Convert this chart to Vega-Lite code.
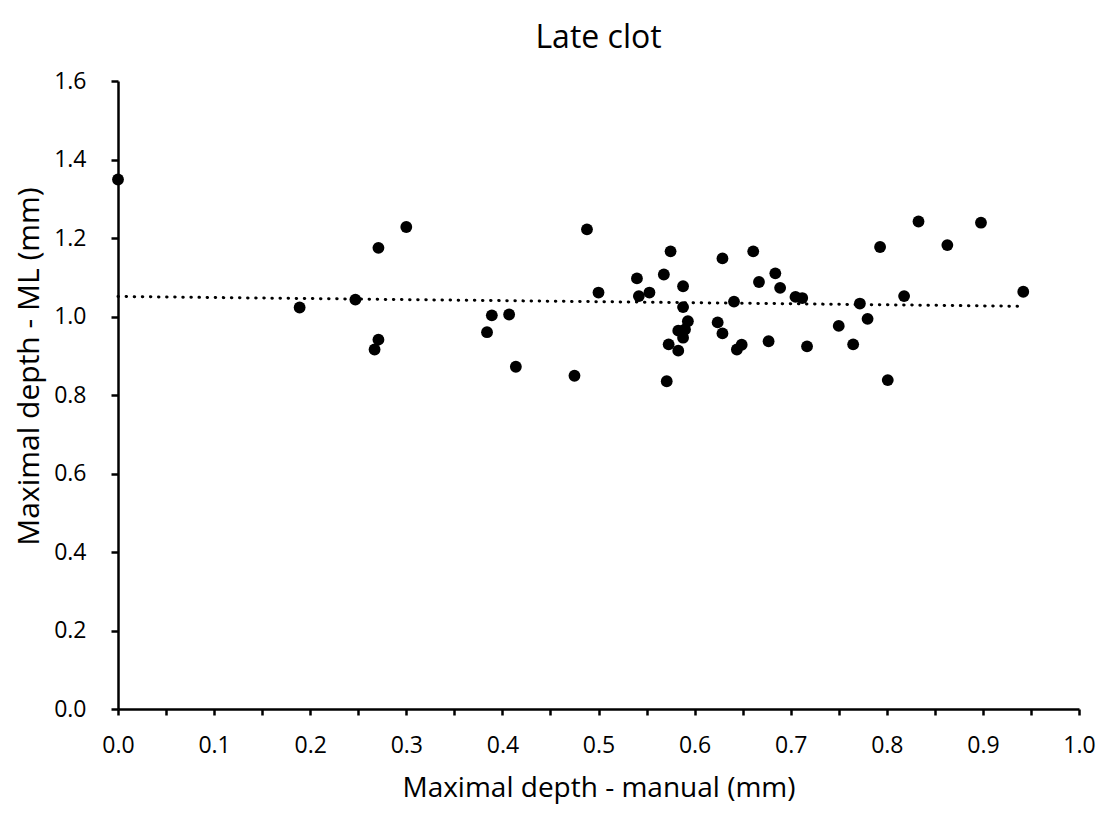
{
  "$schema": "https://vega.github.io/schema/vega-lite/v6.json",
  "autosize": {"type": "none"},
  "width": 961,
  "height": 628,
  "padding": {"left": 118, "top": 81, "right": 35, "bottom": 105},
  "background": "white",
  "config": {"view": {"stroke": null}, "font": "Open Sans"},
  "title": {"text": "Late clot", "fontSize": 32, "font": "Open Sans", "fontWeight": "normal", "color": "#000000", "anchor": "middle", "offset": 15},
  "datasets": {
    "pts": [
      {"x": 0.0, "y": 1.349},
      {"x": 0.189, "y": 1.023},
      {"x": 0.247, "y": 1.043},
      {"x": 0.267, "y": 0.916},
      {"x": 0.271, "y": 0.941},
      {"x": 0.271, "y": 1.175},
      {"x": 0.300, "y": 1.228},
      {"x": 0.384, "y": 0.960},
      {"x": 0.389, "y": 1.003},
      {"x": 0.407, "y": 1.005},
      {"x": 0.414, "y": 0.872},
      {"x": 0.475, "y": 0.849},
      {"x": 0.488, "y": 1.222},
      {"x": 0.500, "y": 1.061},
      {"x": 0.540, "y": 1.097},
      {"x": 0.542, "y": 1.052},
      {"x": 0.553, "y": 1.061},
      {"x": 0.568, "y": 1.107},
      {"x": 0.571, "y": 0.835},
      {"x": 0.573, "y": 0.929},
      {"x": 0.575, "y": 1.166},
      {"x": 0.583, "y": 0.913},
      {"x": 0.583, "y": 0.964},
      {"x": 0.588, "y": 0.946},
      {"x": 0.588, "y": 1.024},
      {"x": 0.588, "y": 1.077},
      {"x": 0.590, "y": 0.967},
      {"x": 0.593, "y": 0.988},
      {"x": 0.624, "y": 0.985},
      {"x": 0.629, "y": 0.957},
      {"x": 0.629, "y": 1.148},
      {"x": 0.641, "y": 1.038},
      {"x": 0.644, "y": 0.916},
      {"x": 0.649, "y": 0.928},
      {"x": 0.661, "y": 1.166},
      {"x": 0.667, "y": 1.088},
      {"x": 0.677, "y": 0.937},
      {"x": 0.684, "y": 1.110},
      {"x": 0.689, "y": 1.073},
      {"x": 0.705, "y": 1.050},
      {"x": 0.712, "y": 1.047},
      {"x": 0.717, "y": 0.924},
      {"x": 0.750, "y": 0.976},
      {"x": 0.765, "y": 0.929},
      {"x": 0.772, "y": 1.033},
      {"x": 0.780, "y": 0.994},
      {"x": 0.793, "y": 1.177},
      {"x": 0.801, "y": 0.838},
      {"x": 0.818, "y": 1.052},
      {"x": 0.833, "y": 1.242},
      {"x": 0.863, "y": 1.182},
      {"x": 0.898, "y": 1.239},
      {"x": 0.942, "y": 1.063}
    ],
    "trend": [
      {"x": 0.0, "y": 1.051},
      {"x": 0.942, "y": 1.026}
    ]
  },
  "layer": [
    {
      "data": {"name": "trend"},
      "mark": {"type": "line", "color": "#000000", "strokeWidth": 3, "strokeDash": [0.5, 7.6], "strokeCap": "round"},
      "encoding": {
        "x": {"field": "x", "type": "quantitative"},
        "y": {"field": "y", "type": "quantitative"}
      }
    },
    {
      "data": {"name": "pts"},
      "mark": {"type": "circle", "color": "#000000", "opacity": 1, "size": 140},
      "encoding": {
        "x": {
          "field": "x", "type": "quantitative",
          "scale": {"domain": [0, 1], "nice": false, "zero": false},
          "axis": {
            "title": "Maximal depth - manual (mm)",
            "titleFont": "Open Sans", "titleFontSize": 28, "titleFontWeight": "normal", "titleColor": "#000000", "titlePadding": 17,
            "values": [0, 0.05, 0.1, 0.15, 0.2, 0.25, 0.3, 0.35, 0.4, 0.45, 0.5, 0.55, 0.6, 0.65, 0.7, 0.75, 0.8, 0.85, 0.9, 0.95, 1.0],
            "labelExpr": "round(datum.value*20) % 2 == 0 ? format(datum.value, '.1f') : ''",
            "labelFont": "Open Sans", "labelFontSize": 23, "labelColor": "#000000", "labelPadding": 19,
            "domainColor": "#000000", "domainWidth": 2.5,
            "tickColor": "#000000", "tickWidth": 2.5, "tickSize": 6,
            "grid": false, "labelOverlap": false, "labelFlush": false
          }
        },
        "y": {
          "field": "y", "type": "quantitative",
          "scale": {"domain": [0, 1.6], "nice": false, "zero": false},
          "axis": {
            "title": "Maximal depth - ML (mm)",
            "titleFont": "Open Sans", "titleFontSize": 30, "titleFontWeight": "normal", "titleColor": "#000000", "titlePadding": 9, "titleY": 285,
            "values": [0, 0.1, 0.2, 0.3, 0.4, 0.5, 0.6, 0.7, 0.8, 0.9, 1.0, 1.1, 1.2, 1.3, 1.4, 1.5, 1.6],
            "labelExpr": "round(datum.value*10) % 2 == 0 ? format(datum.value, '.1f') : ''",
            "labelFont": "Open Sans", "labelFontSize": 23, "labelColor": "#000000", "labelPadding": 25,
            "domainColor": "#000000", "domainWidth": 2.5,
            "tickColor": "#000000", "tickWidth": 2.5, "tickSize": 7,
            "grid": false, "labelOverlap": false, "labelFlush": false
          }
        }
      }
    }
  ]
}
